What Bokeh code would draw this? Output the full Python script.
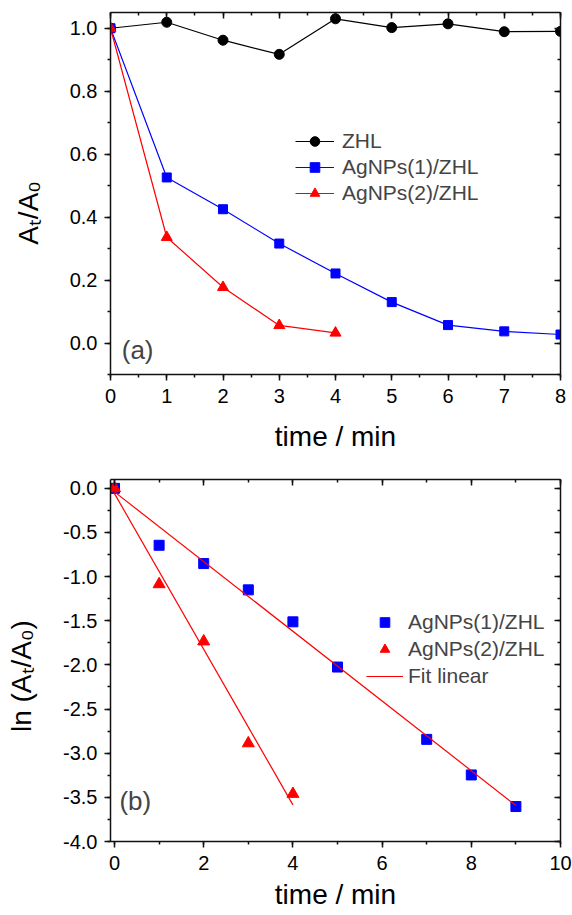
from bokeh.plotting import figure
from bokeh.models import (LinearAxis, SingleIntervalTicker, NumeralTickFormatter, Range1d,
                          Legend, LegendItem, Label, CustomJSTickFormatter)
from bokeh.layouts import column
from bokeh.embed import file_html
from bokeh.resources import INLINE

# ---------------- data ----------------
# panel (a): A_t/A_0 versus time
time_a = [0, 1, 2, 3, 4, 5, 6, 7, 8]
zhl = [1.0, 1.019, 0.962, 0.917, 1.030, 1.002, 1.014, 0.989, 0.990]
ag1 = [1.0, 0.526, 0.425, 0.316, 0.221, 0.130, 0.057, 0.037, 0.027]
time_a2 = [0, 1, 2, 3, 4]
ag2 = [1.0, 0.336, 0.177, 0.056, 0.032]

# panel (b): ln(A_t/A_0) versus time
time_b1 = [0, 1, 2, 3, 4, 5, 7, 8, 9]
ln_ag1 = [0.0, -0.645, -0.852, -1.150, -1.512, -2.024, -2.843, -3.246, -3.604]
time_b2 = [0, 1, 2, 3, 4]
ln_ag2 = [0.0, -1.086, -1.734, -2.888, -3.461]
fit1_x = [0, 9]
fit1_y = [-0.04, -3.593]
fit2_x = [0, 4]
fit2_y = [-0.06, -3.585]

FONT = "Liberation Sans"
TICK_FS = "20px"
LEG_FS = "21px"
LABEL_FS = "28px"
AX_COL = "#111111"
NBSP = "\u00a0"


def style_axes(p, xtick, ytick, xfmt, yfmt):
    for ax in p.below + p.left:
        ax.axis_line_width = 1.5
        ax.axis_line_color = AX_COL
        ax.major_tick_line_color = AX_COL
        ax.minor_tick_line_color = AX_COL
        ax.major_tick_line_width = 1.5
        ax.minor_tick_line_width = 1.5
        ax.major_tick_out = 6
        ax.major_tick_in = 0
        ax.minor_tick_out = 3
        ax.minor_tick_in = 0
        ax.major_label_text_font = FONT
        ax.major_label_text_font_size = TICK_FS
        ax.major_label_text_color = "black"
        ax.axis_label_text_font = FONT
        ax.axis_label_text_font_size = LABEL_FS
        ax.axis_label_text_font_style = "normal"
        ax.axis_label_text_color = "black"
    p.below[0].major_label_standoff = 8
    p.left[0].major_label_standoff = 7
    p.below[0].ticker = xtick
    p.left[0].ticker = ytick
    p.below[0].formatter = xfmt
    p.left[0].formatter = yfmt
    # mirrored axes with inward ticks and no labels
    for loc, tk in (("above", xtick), ("right", ytick)):
        ax = LinearAxis(ticker=tk, axis_line_width=1.5, axis_line_color=AX_COL,
                        major_tick_in=6, major_tick_out=0, minor_tick_in=3, minor_tick_out=0,
                        major_tick_line_width=1.5, minor_tick_line_width=1.5,
                        major_tick_line_color=AX_COL, minor_tick_line_color=AX_COL,
                        formatter=CustomJSTickFormatter(code="return ''"),
                        major_label_standoff=0)
        p.add_layout(ax, loc)
    p.grid.visible = False
    p.outline_line_color = None


# ---------------- panel (a) ----------------
pa = figure(width=572, height=463, output_backend="svg", toolbar_location=None,
            x_range=Range1d(0, 8), y_range=Range1d(-0.1, 1.05),
            min_border_left=108, min_border_right=12, min_border_top=12, min_border_bottom=89)
pa.xaxis.axis_label = "time / min"
pa.yaxis.axis_label = "Aₜ/A₀" + NBSP * 5
style_axes(pa, SingleIntervalTicker(interval=1, num_minor_ticks=2),
           SingleIntervalTicker(interval=0.2, num_minor_ticks=2),
           NumeralTickFormatter(format="0"), NumeralTickFormatter(format="0.0"))
pa.below[0].axis_label_standoff = 15
pa.left[0].axis_label_standoff = 23

l1 = pa.line(time_a, zhl, line_color="black", line_width=1.2)
m1 = pa.scatter(time_a, zhl, marker="circle", size=10, color="black")
l2 = pa.line(time_a, ag1, line_color="#0000ff", line_width=1.2)
m2 = pa.scatter(time_a, ag1, marker="square", size=9, color="#0000ff")
l3 = pa.line(time_a2, ag2, line_color="#ff0000", line_width=1.2)
m3 = pa.scatter(time_a2, ag2, marker="triangle", size=11, color="#ff0000")

leg_a = Legend(items=[LegendItem(label="ZHL", renderers=[l1, m1]),
                      LegendItem(label="AgNPs(1)/ZHL", renderers=[l2, m2]),
                      LegendItem(label="AgNPs(2)/ZHL", renderers=[l3, m3])],
               location=(185, 169), border_line_color=None, background_fill_alpha=0,
               padding=0, margin=0, spacing=2, glyph_width=39, glyph_height=24,
               label_height=24, label_standoff=8, label_text_font=FONT,
               label_text_font_size=LEG_FS)
pa.add_layout(leg_a)
pa.add_layout(Label(x=0.2, y=-0.021, text="(a)", text_font=FONT, text_font_size="26px",
                    text_baseline="middle", text_align="left"))

# ---------------- panel (b) ----------------
pb = figure(width=572, height=452, output_backend="svg", toolbar_location=None,
            x_range=Range1d(-0.09, 10), y_range=Range1d(-4.0, 0.1),
            min_border_left=110, min_border_right=11, min_border_top=16, min_border_bottom=74)
pb.xaxis.axis_label = "time / min"
pb.yaxis.axis_label = "ln (Aₜ/A₀)" + NBSP * 4
style_axes(pb, SingleIntervalTicker(interval=2, num_minor_ticks=2),
           SingleIntervalTicker(interval=0.5, num_minor_ticks=2),
           NumeralTickFormatter(format="0"), NumeralTickFormatter(format="0.0"))
pb.below[0].axis_label_standoff = 6
pb.left[0].axis_label_standoff = 23

s1 = pb.scatter(time_b1, ln_ag1, marker="square", size=10, color="#0000ff")
s2 = pb.scatter(time_b2, ln_ag2, marker="triangle", size=12, color="#ff0000")
f1 = pb.line(fit1_x, fit1_y, line_color="#ff0000", line_width=1.2)
f2 = pb.line(fit2_x, fit2_y, line_color="#ff0000", line_width=1.2)

leg_b = Legend(items=[LegendItem(label="AgNPs(1)/ZHL", renderers=[s1]),
                      LegendItem(label="AgNPs(2)/ZHL", renderers=[s2]),
                      LegendItem(label="Fit linear", renderers=[f1])],
               location=(256, 153), border_line_color=None, background_fill_alpha=0,
               padding=0, margin=0, spacing=3, glyph_width=37, glyph_height=24,
               label_height=24, label_standoff=5, label_text_font=FONT,
               label_text_font_size=LEG_FS)
pb.add_layout(leg_b)
pb.add_layout(Label(x=0.11, y=-3.54, text="(b)", text_font=FONT, text_font_size="26px",
                    text_baseline="middle", text_align="left"))

layout = column(pa, pb, spacing=0)
open("out.html", "w").write(file_html(layout, INLINE))
